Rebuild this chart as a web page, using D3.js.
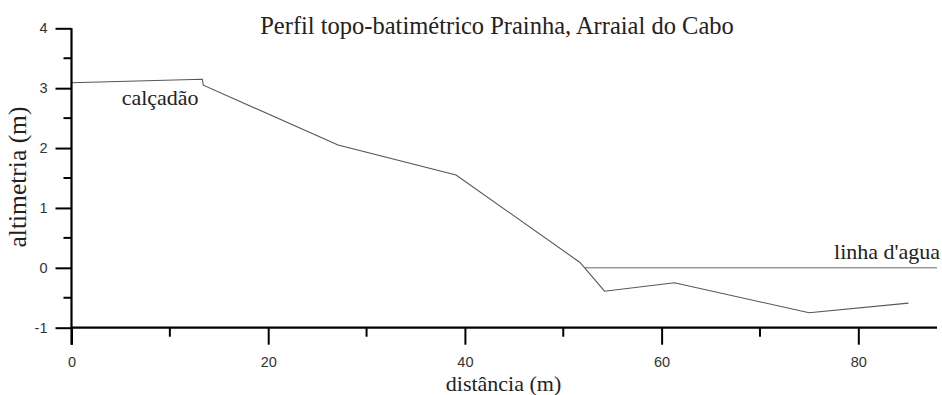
<!DOCTYPE html>
<html>
<head>
<meta charset="utf-8">
<script src="https://cdn.jsdelivr.net/npm/d3@7"></script>
<style>
  html, body { margin: 0; padding: 0; background: #fff; }
  svg { display: block; }
</style>
</head>
<body>
<svg id="chart" width="942" height="395"></svg>
<script>
// Topo-bathymetric profile, Prainha (Arraial do Cabo)
const distancia = [0, 13.3, 13.4, 27.1, 39.1, 51.7, 54.2, 61.3, 75.0, 85.1];
const altimetria = [3.09, 3.15, 3.05, 2.05, 1.55, 0.09, -0.39, -0.25, -0.75, -0.59];

// Water line (sea level)
const aguaDist = [52.2, 88];
const aguaAlt = [0, 0];

const xTicks = [0, 20, 40, 60, 80];
const xMinor = [10, 30, 50, 70];
const yTicks = [-1, 0, 1, 2, 3, 4];
const yMinor = [-0.5, 0.5, 1.5, 2.5, 3.5];

const titulo = "Perfil topo-batimétrico Prainha, Arraial do Cabo";
const tituloX = "distância (m)";
const tituloY = "altimetria (m)";

const svg = d3.select("#chart");

const x = d3.scaleLinear().domain([0, 88]).range([71.5, 937]);
const y = d3.scaleLinear().domain([-1, 4]).range([327.7, 28.3]);

const sans = "Arial, 'Liberation Sans', sans-serif";
const serif = "'Times New Roman', 'Liberation Serif', serif";
const fmt = (d) => String(d);

// Profile line
const line = d3.line().x((d) => x(d[0])).y((d) => y(d[1]));
svg.append("path")
  .datum(d3.zip(distancia, altimetria))
  .attr("d", line)
  .attr("fill", "none")
  .attr("stroke", "#555")
  .attr("stroke-width", 1.1);

svg.append("path")
  .datum(d3.zip(aguaDist, aguaAlt))
  .attr("d", line)
  .attr("fill", "none")
  .attr("stroke", "#666")
  .attr("stroke-width", 1);

// X axis
const xAxis = svg.append("g").attr("transform", `translate(0,${y(-1)})`);
xAxis.call(d3.axisBottom(x).tickValues(xTicks).tickSize(17).tickPadding(12).tickFormat(fmt));
xAxis.append("g").selectAll("line").data(xMinor).join("line")
  .attr("x1", (d) => x(d)).attr("x2", (d) => x(d))
  .attr("y1", 0).attr("y2", 9)
  .attr("stroke", "#000").attr("stroke-width", 2);

// Y axis
const yAxis = svg.append("g").attr("transform", `translate(${x(0)},0)`);
yAxis.call(d3.axisLeft(y).tickValues(yTicks).tickSize(16).tickPadding(8).tickFormat(fmt));
yAxis.append("g").selectAll("line").data(yMinor).join("line")
  .attr("x1", 0).attr("x2", -8)
  .attr("y1", (d) => y(d)).attr("y2", (d) => y(d))
  .attr("stroke", "#000").attr("stroke-width", 2);

[xAxis, yAxis].forEach((g) => {
  g.select(".domain").remove();
  g.selectAll(".tick line").attr("stroke", "#000").attr("stroke-width", 2);
  g.selectAll(".tick text")
    .attr("fill", "#333")
    .style("font-family", sans)
    .style("font-size", "14.5px");
});

// Axis lines spanning the full frame
svg.append("line")
  .attr("x1", x(0)).attr("x2", x(88))
  .attr("y1", y(-1)).attr("y2", y(-1))
  .attr("stroke", "#000").attr("stroke-width", 2.2);
svg.append("line")
  .attr("x1", x(0)).attr("x2", x(0))
  .attr("y1", y(4)).attr("y2", y(-1) + 17)
  .attr("stroke", "#000").attr("stroke-width", 2.2);

// Titles
svg.append("text")
  .attr("x", 497).attr("y", 34)
  .attr("text-anchor", "middle")
  .style("font-family", serif).style("font-size", "24.5px").attr("fill", "#222")
  .text(titulo);

svg.append("text")
  .attr("x", 503.5).attr("y", 391)
  .attr("text-anchor", "middle")
  .style("font-family", serif).style("font-size", "22px").attr("fill", "#222")
  .text(tituloX);

svg.append("text")
  .attr("transform", `translate(26,177) rotate(-90)`)
  .attr("text-anchor", "middle")
  .style("font-family", serif).style("font-size", "25.5px").attr("fill", "#222")
  .text(tituloY);

// Annotations
svg.append("text")
  .attr("x", x(5.1)).attr("y", y(2.72))
  .style("font-family", serif).style("font-size", "22px").attr("fill", "#222")
  .text("calçadão");

svg.append("text")
  .attr("x", 940).attr("y", y(0.15))
  .attr("text-anchor", "end")
  .style("font-family", serif).style("font-size", "22px").attr("fill", "#222")
  .text("linha d'agua");
</script>
</body>
</html>
